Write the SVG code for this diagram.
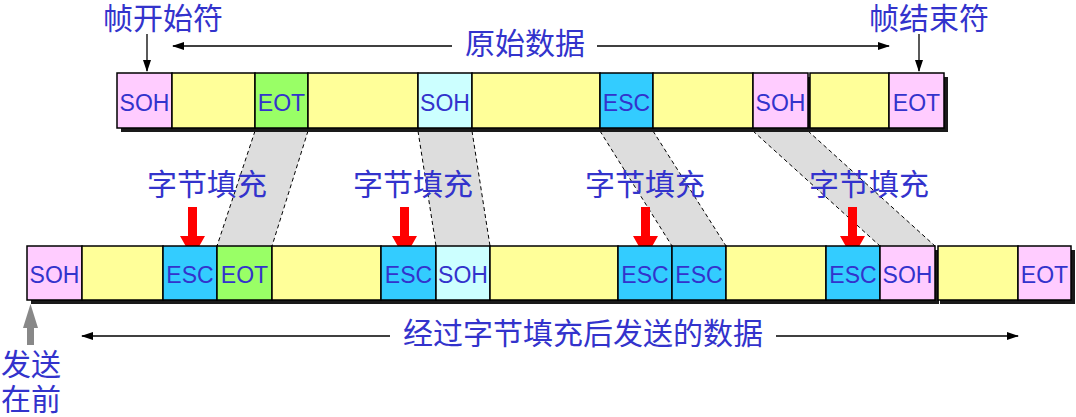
<svg xmlns="http://www.w3.org/2000/svg" width="1076" height="417" viewBox="0 0 1076 417">
<style>
.c{stroke:#000;stroke-width:1.5}
.soh{fill:#FFCCFF}.y{fill:#FFFF99}.eot{fill:#99FF66}.esc{fill:#33CCFF}.lc{fill:#CCFFFF}
.sh{fill:#1a1a1a}
.t{font-family:"Liberation Sans",Arial,sans-serif;font-size:23px;fill:#3333CC;text-anchor:middle}
.z{font-family:"Noto Sans CJK SC",sans-serif;font-size:30px;fill:#3333CC;text-anchor:middle}
.band{fill:#DDDDDD}
.dash{stroke:#000;stroke-width:1;stroke-dasharray:4 3;fill:none}
.ln{stroke:#000;stroke-width:1.3;fill:none}
</style>
<defs>
<marker id="ah" markerWidth="12" markerHeight="8" refX="11" refY="4" orient="auto" markerUnits="userSpaceOnUse">
<path d="M0,0 L12,4 L0,8 Z" fill="#000"/>
</marker>
</defs>
<g id="connectors">
<polygon class="band" points="255,131 308,131 272,246 217,246"/>
<line class="dash" x1="255" y1="131" x2="217" y2="246"/><line class="dash" x1="308" y1="131" x2="272" y2="246"/>
<polygon class="band" points="418,131 472,131 490,246 436,246"/>
<line class="dash" x1="418" y1="131" x2="436" y2="246"/><line class="dash" x1="472" y1="131" x2="490" y2="246"/>
<polygon class="band" points="600,131 653,131 726,246 672,246"/>
<line class="dash" x1="600" y1="131" x2="672" y2="246"/><line class="dash" x1="653" y1="131" x2="726" y2="246"/>
<polygon class="band" points="753,131 808,131 935,246 880,246"/>
<line class="dash" x1="753" y1="131" x2="880" y2="246"/><line class="dash" x1="808" y1="131" x2="935" y2="246"/>
<line class="ln" x1="147" y1="34" x2="147" y2="71" marker-end="url(#ah)"/>
<line class="ln" x1="919" y1="34" x2="919" y2="71" marker-end="url(#ah)"/>
<line class="ln" x1="452" y1="46" x2="173" y2="46" marker-end="url(#ah)"/>
<line class="ln" x1="597" y1="46" x2="889" y2="46" marker-end="url(#ah)"/>
<line class="ln" x1="390" y1="336" x2="82" y2="336" marker-end="url(#ah)"/>
<line class="ln" x1="776" y1="336" x2="1018" y2="336" marker-end="url(#ah)"/>
<g fill="#FF0000">
<path d="M188,207 H197 V236 H205 L192.5,258 L180,236 H188 Z"/>
<path d="M400,207 H409 V236 H417 L404.5,258 L392,236 H400 Z"/>
<path d="M641,207 H650 V236 H658 L645.5,258 L633,236 H641 Z"/>
<path d="M848,207 H857 V236 H865 L852.5,258 L840,236 H848 Z"/>
</g>
<path d="M27,327 H34 V345 H27 Z" fill="#888"/>
<path d="M23,328 L30.5,304 L38,328 Z" fill="#888"/>
</g>
<g id="shadows">
<rect class="sh" x="121" y="128" width="691" height="4"/>
<rect class="sh" x="808" y="77" width="4" height="55"/>
<rect class="sh" x="812" y="128" width="136" height="4"/>
<rect class="sh" x="944" y="77" width="4" height="55"/>
<rect class="sh" x="31" y="300" width="908" height="4"/>
<rect class="sh" x="935" y="250" width="4" height="54"/>
<rect class="sh" x="940" y="300" width="135" height="4"/>
<rect class="sh" x="1071" y="250" width="4" height="54"/>
</g>
<g id="top-soh1"><rect class="c soh" x="117" y="73" width="55" height="55"/><text class="t" x="144.5" y="111">SOH</text></g>
<g id="top-d1"><rect class="c y" x="172" y="73" width="83" height="55"/></g>
<g id="top-eot1"><rect class="c eot" x="255" y="73" width="53" height="55"/><text class="t" x="281.5" y="111">EOT</text></g>
<g id="top-d2"><rect class="c y" x="308" y="73" width="110" height="55"/></g>
<g id="top-soh2"><rect class="c lc" x="418" y="73" width="54" height="55"/><text class="t" x="445" y="111">SOH</text></g>
<g id="top-d3"><rect class="c y" x="472" y="73" width="128" height="55"/></g>
<g id="top-esc"><rect class="c esc" x="600" y="73" width="53" height="55"/><text class="t" x="626.5" y="111">ESC</text></g>
<g id="top-d4"><rect class="c y" x="653" y="73" width="100" height="55"/></g>
<g id="top-soh3"><rect class="c soh" x="753" y="73" width="55" height="55"/><text class="t" x="780.5" y="111">SOH</text></g>
<g id="top-d5"><rect class="c y" x="810" y="73" width="79" height="55"/></g>
<g id="top-eot2"><rect class="c soh" x="889" y="73" width="55" height="55"/><text class="t" x="916.5" y="111">EOT</text></g>

<g id="bot-soh1"><rect class="c soh" x="27" y="246" width="55" height="54"/><text class="t" x="54.5" y="283">SOH</text></g>
<g id="bot-d1"><rect class="c y" x="82" y="246" width="81" height="54"/></g>
<g id="bot-esc1"><rect class="c esc" x="163" y="246" width="54" height="54"/><text class="t" x="190" y="283">ESC</text></g>
<g id="bot-eot1"><rect class="c eot" x="217" y="246" width="55" height="54"/><text class="t" x="244.5" y="283">EOT</text></g>
<g id="bot-d2"><rect class="c y" x="272" y="246" width="109" height="54"/></g>
<g id="bot-esc2"><rect class="c esc" x="381" y="246" width="55" height="54"/><text class="t" x="408.5" y="283">ESC</text></g>
<g id="bot-soh2"><rect class="c lc" x="436" y="246" width="54" height="54"/><text class="t" x="463" y="283">SOH</text></g>
<g id="bot-d3"><rect class="c y" x="490" y="246" width="128" height="54"/></g>
<g id="bot-esc3"><rect class="c esc" x="618" y="246" width="54" height="54"/><text class="t" x="645" y="283">ESC</text></g>
<g id="bot-esc4"><rect class="c esc" x="672" y="246" width="54" height="54"/><text class="t" x="699" y="283">ESC</text></g>
<g id="bot-d4"><rect class="c y" x="726" y="246" width="100" height="54"/></g>
<g id="bot-esc5"><rect class="c esc" x="826" y="246" width="54" height="54"/><text class="t" x="853" y="283">ESC</text></g>
<g id="bot-soh3"><rect class="c soh" x="880" y="246" width="55" height="54"/><text class="t" x="907.5" y="283">SOH</text></g>
<g id="bot-d5"><rect class="c y" x="938" y="246" width="80" height="54"/></g>
<g id="bot-eot2"><rect class="c soh" x="1018" y="246" width="53" height="54"/><text class="t" x="1044.5" y="283">EOT</text></g>

<g id="labels">
<text class="z" x="163" y="29">帧开始符</text>
<text class="z" x="929" y="29">帧结束符</text>
<text class="z" x="525" y="54">原始数据</text>
<text class="z" x="207" y="195">字节填充</text>
<text class="z" x="413" y="195">字节填充</text>
<text class="z" x="645" y="195">字节填充</text>
<text class="z" x="869" y="195">字节填充</text>
<text class="z" x="583" y="344">经过字节填充后发送的数据</text>
<text class="z" x="31" y="375">发送</text>
<text class="z" x="31" y="410">在前</text>
</g>
</svg>
